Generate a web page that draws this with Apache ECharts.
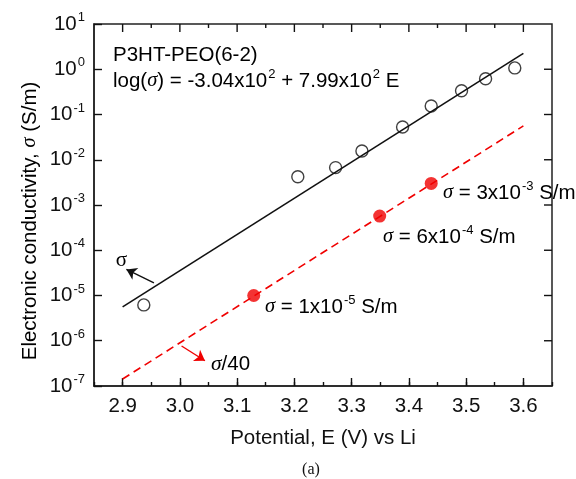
<!DOCTYPE html>
<html>
<head>
<meta charset="utf-8">
<script src="https://cdn.jsdelivr.net/npm/echarts@6/dist/echarts.min.js"></script>
<style>
  html, body { margin: 0; padding: 0; background: #fff; }
  #chart { width: 576px; height: 479px; }
</style>
</head>
<body>
<div id="chart"></div>
<script>
// Datos (E en V, sigma en S/m)
const measuredE = [2.937, 3.206, 3.272, 3.318, 3.389, 3.439, 3.492, 3.534, 3.585];
const measuredSigma = [6.2e-6, 4.2e-3, 6.7e-3, 0.0156, 0.053, 0.154, 0.336, 0.618, 1.07];

const fitE = [2.9, 3.6];
const fitSigma = [5.6e-6, 2.25];

const scaledE = [2.9, 3.6];
const scaledSigma = [1.43e-7, 0.056];

const markedE = [3.129, 3.349, 3.439];
const markedSigma = [1.0e-5, 5.7e-4, 3.0e-3];

// Marcas del marco superior y derecho
const topTicks = [2.9, 2.95, 3.0, 3.05, 3.1, 3.15, 3.2, 3.25, 3.3, 3.35, 3.4, 3.45, 3.5, 3.55, 3.6];
const rightTicks = [1e-6, 1e-5, 1e-4, 1e-3, 1e-2, 1e-1, 1];

// Flechas de anotación (coordenadas de datos: inicio -> punta)
const arrowBlack = [[2.9547, 1.89e-5], [2.9066, 3.76e-5]];
const arrowRed = [[3.003, 7.66e-7], [3.0438, 3.62e-7]];

const RED = '#f00000';
const INK = '#111';
const FONT = 'Liberation Sans';
const X_MAX = 3.65;
const Y_MAX = 10;

const pairs = (xs, ys) => xs.map((x, i) => [x, ys[i]]);

const txt = {
    n: { fontSize: 20.5, lineHeight: 26, fontFamily: FONT, color: INK },
    i: { fontSize: 20.5, lineHeight: 26, fontFamily: 'Liberation Serif', fontStyle: 'italic', color: INK },
    s: { fontSize: 13, lineHeight: 14, fontFamily: FONT, color: INK, verticalAlign: 'top', padding: [0, 0, 0, 1] },
    r: { fontSize: 20.5, lineHeight: 26, fontFamily: FONT, color: RED },
    ri: { fontSize: 21.5, lineHeight: 26, fontFamily: 'Liberation Serif', fontStyle: 'italic', color: RED },
    g: { fontSize: 21, lineHeight: 26, fontFamily: 'Liberation Serif', color: INK }
};

function note(text, x, y, extra) {
    return {
        type: 'text', x: x, y: y, z: 50,
        style: Object.assign({ text: text, rich: txt, verticalAlign: 'middle', align: 'left' }, extra || {})
    };
}

// Dibuja una marca corta hacia dentro del marco
function tickItem(side) {
    return function (params, api) {
        const a = api.value(0);
        const b = api.value(1);
        const p = api.coord([a, b]);
        let x2 = p[0], y2 = p[1];
        if (side === 'top') {
            const major = Math.abs(a * 10 - Math.round(a * 10)) < 1e-6;
            y2 = p[1] + (major ? 8 : 4);
        } else {
            x2 = p[0] - 8;
        }
        return {
            type: 'line',
            shape: { x1: p[0], y1: p[1], x2: x2, y2: y2 },
            style: { stroke: '#111', lineWidth: 1.4 }
        };
    };
}

const chart = echarts.init(document.getElementById('chart'));

const al = { show: true, onZero: false, lineStyle: { color: '#222', width: 1.5 } };
const tkMinor = { show: true, inside: true, length: 4, lineStyle: { color: '#111', width: 1.4 } };
const tkMajor = { show: true, inside: true, length: 8, lineStyle: { color: '#111', width: 1.4 } };

chart.setOption({
    animation: false,
    grid: [
        { left: 94, top: 24, width: 458, height: 362, outerBoundsMode: 'none',
          show: true, borderColor: '#222', borderWidth: 1.5, backgroundColor: 'transparent' },
        { left: 122.625, top: 24, width: 400.75, height: 362, outerBoundsMode: 'none' }
    ],
    xAxis: [
        { type: 'value', gridIndex: 0, min: 2.85, max: X_MAX, interval: 0.05, position: 'bottom',
          axisLine: al, axisTick: tkMinor, axisLabel: { show: false }, splitLine: { show: false } },
        { type: 'value', gridIndex: 1, min: 2.9, max: 3.6, interval: 0.1, position: 'bottom',
          axisLine: { show: false }, axisTick: tkMajor, splitLine: { show: false },
          name: 'Potential, E (V) vs Li', nameLocation: 'middle', nameGap: 42,
          nameTextStyle: { fontSize: 20.5, fontFamily: FONT, color: INK },
          axisLabel: { show: true, margin: 10, fontSize: 20.5, fontFamily: FONT, color: INK,
                       formatter: v => v.toFixed(1) } }
    ],
    yAxis: [
        { type: 'log', gridIndex: 0, min: 1e-7, max: Y_MAX, position: 'left',
          axisLine: al, axisTick: tkMajor, splitLine: { show: false },
          axisLabel: {
              show: true, margin: 9,
              formatter: v => '{b|10}{s|' + Math.round(Math.log10(v)) + '}',
              rich: {
                  b: { fontSize: 20.5, lineHeight: 26, fontFamily: FONT, color: INK },
                  s: { fontSize: 13, lineHeight: 14, fontFamily: FONT, color: INK, verticalAlign: 'top', padding: [0, 0, 0, 1] }
              }
          } },
        { type: 'log', gridIndex: 1, min: 1e-7, max: Y_MAX, show: false }
    ],
    series: [
        {
            type: 'custom', xAxisIndex: 0, yAxisIndex: 0, silent: true, clip: false,
            data: topTicks.map(e => [e, Y_MAX]),
            renderItem: tickItem('top'), z: 2
        },
        {
            type: 'custom', xAxisIndex: 0, yAxisIndex: 0, silent: true, clip: false,
            data: rightTicks.map(v => [X_MAX, v]),
            renderItem: tickItem('right'), z: 2
        },
        {
            type: 'line', xAxisIndex: 0, yAxisIndex: 0,
            data: pairs(fitE, fitSigma), showSymbol: false, symbol: 'none',
            lineStyle: { color: INK, width: 1.6 }, z: 3,
            markLine: {
                silent: true, symbol: ['none', 'arrow'], symbolSize: 10,
                label: { show: false },
                lineStyle: { color: INK, width: 1.4, type: 'solid' },
                data: [[{ coord: arrowBlack[0] }, { coord: arrowBlack[1] }]]
            }
        },
        {
            type: 'line', xAxisIndex: 0, yAxisIndex: 0,
            data: pairs(scaledE, scaledSigma), showSymbol: false, symbol: 'none',
            lineStyle: { color: RED, width: 1.6, type: [8, 5] }, z: 3,
            markLine: {
                silent: true, symbol: ['none', 'arrow'], symbolSize: 10,
                label: { show: false },
                lineStyle: { color: RED, width: 1.4, type: 'solid' },
                data: [[{ coord: arrowRed[0] }, { coord: arrowRed[1] }]]
            }
        },
        {
            type: 'scatter', xAxisIndex: 0, yAxisIndex: 0,
            data: pairs(measuredE, measuredSigma),
            symbol: 'circle', symbolSize: 12,
            itemStyle: { color: 'rgba(255,255,255,0)', borderColor: INK, borderWidth: 1.4 }, z: 5
        },
        {
            type: 'scatter', xAxisIndex: 0, yAxisIndex: 0,
            data: pairs(markedE, markedSigma),
            symbol: 'circle', symbolSize: 13,
            itemStyle: { color: RED }, z: 5
        }
    ],
    graphic: [
        {
            type: 'text', x: 30, y: 221, rotation: Math.PI / 2, z: 50,
            style: {
                text: '{n|Electronic conductivity, }{i|σ}{n| (S/m)}', rich: txt,
                align: 'center', verticalAlign: 'middle'
            }
        },
        note('{n|P3HT-PEO(6-2)}', 113, 55),
        note('{n|log(}{i|σ}{n|) = -3.04x10}{s|2}{n| + 7.99x10}{s|2}{n| E}', 113, 81),
        note('{i|σ}{n| = 3x10}{s|-3}{n| S/m}', 443, 193),
        note('{i|σ}{n| = 6x10}{s|-4}{n| S/m}', 383, 237),
        note('{i|σ}{n| = 1x10}{s|-5}{n| S/m}', 265, 307),
        note('{g|σ}', 121.5, 260, { align: 'center' }),
        note('{ri|σ}{r|/40}', 211, 364),
        {
            type: 'text', x: 311, y: 470, z: 50,
            style: {
                text: '(a)', fontSize: 16, fontFamily: 'Liberation Serif', fill: INK,
                align: 'center', verticalAlign: 'middle'
            }
        }
    ]
});
</script>
</body>
</html>
